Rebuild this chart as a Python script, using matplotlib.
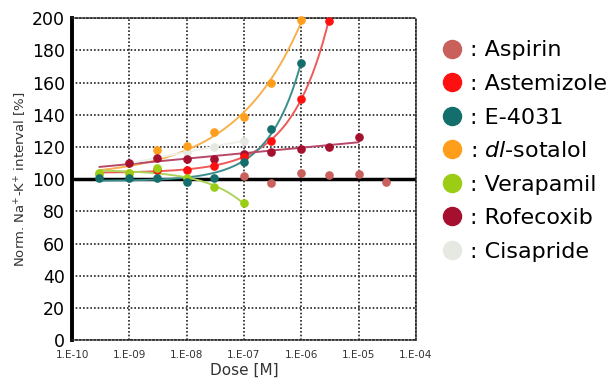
import numpy as np
import matplotlib
matplotlib.use('Agg')
import matplotlib.pyplot as plt
from matplotlib.lines import Line2D

plt.rcParams['font.family'] = 'DejaVu Sans'
plt.rcParams['mathtext.fontset'] = 'dejavusans'

# dose levels [M] and normalised Na+-K+ interval [%]
aspirin_dose = [1e-7, 3e-7, 1e-6, 3e-6, 1e-5, 3e-5]
aspirin_val = [102, 97.5, 104, 102.5, 103, 98]

astemizole_dose = [3e-9, 1e-8, 3e-8, 1e-7, 3e-7, 1e-6, 3e-6]
astemizole_val = [105.5, 106, 108, 114, 124, 150, 198]

e4031_dose = [3e-10, 1e-9, 3e-9, 1e-8, 3e-8, 1e-7, 3e-7, 1e-6]
e4031_val = [101, 101, 101, 98, 101, 110.5, 131, 172]

sotalol_dose = [3e-10, 1e-9, 3e-9, 1e-8, 3e-8, 1e-7, 3e-7, 1e-6]
sotalol_val = [103, 104, 118, 120.5, 129, 138.5, 160, 199]

verapamil_dose = [3e-10, 1e-9, 3e-9, 1e-8, 3e-8, 1e-7]
verapamil_val = [104, 104, 107, 100.5, 95, 85]

rofecoxib_dose = [1e-9, 3e-9, 1e-8, 3e-8, 1e-7, 3e-7, 1e-6, 3e-6, 1e-5]
rofecoxib_val = [110, 113, 112.5, 112.5, 115.5, 117, 118.5, 120, 126]

cisapride_dose = [1e-8, 3e-8, 1e-7]
cisapride_val = [117, 120, 124]

legend_names = ['Aspirin', 'Astemizole', 'E-4031', r'$\it{dl}$-sotalol',
                'Verapamil', 'Rofecoxib', 'Cisapride']

colors = {
    'aspirin': '#c9605c',
    'astemizole': '#ff1010',
    'e4031': '#146e6c',
    'sotalol': '#ff9e1a',
    'verapamil': '#9acd14',
    'rofecoxib': '#a5102e',
    'cisapride': '#e6e9e2',
}
line_colors = {
    'astemizole': '#ee5a5a',
    'e4031': '#3a8e8c',
    'sotalol': '#f8b04e',
    'verapamil': '#acd45a',
    'rofecoxib': '#b8486a',
    'cisapride': '#eef0ea',
}


def exp_fit(dose, val):
    # y = b + a * exp(k * log10(x)); grid over k, least squares for a, b
    t = np.log10(dose)
    t0 = t.mean()
    y = np.array(val, dtype=float)
    best = None
    for k in np.linspace(0.05, 6, 600):
        A = np.column_stack([np.ones_like(t), np.exp(k * (t - t0))])
        coef, *_ = np.linalg.lstsq(A, y, rcond=None)
        sse = np.sum((A @ coef - y) ** 2)
        if best is None or sse < best[0]:
            best = (sse, k, coef)
    _, k, coef = best
    return lambda tt: coef[0] + coef[1] * np.exp(k * (tt - t0))


fig = plt.figure(figsize=(6.16, 3.78), dpi=100)
ax = fig.add_axes([0.117, 0.1, 0.558, 0.852])

ax.set_xscale('log')
ax.set_xlim(1e-10, 1e-4)
ax.set_ylim(0, 200)

# fitted curves
curves = [
    (sotalol_dose, sotalol_val, 'sotalol', -9.52, -5.9),
    (astemizole_dose, astemizole_val, 'astemizole', -9.52, -5.5),
    (e4031_dose, e4031_val, 'e4031', -9.52, -6.0),
    (verapamil_dose, verapamil_val, 'verapamil', -9.52, -7.0),
]
for dose, val, key, t_lo, t_hi in curves:
    f = exp_fit(dose, val)
    tt = np.linspace(t_lo, t_hi, 200)
    ax.plot(10 ** tt, f(tt), color=line_colors[key], lw=1.4, zorder=3)

c = np.polyfit(np.log10(rofecoxib_dose), rofecoxib_val, 1)
tt = np.linspace(-9.52, -5.0, 50)
ax.plot(10 ** tt, np.polyval(c, tt), color=line_colors['rofecoxib'], lw=1.4, zorder=3)

c = np.polyfit(np.log10(cisapride_dose), cisapride_val, 1)
tt = np.linspace(-9.0, -7.0, 50)
ax.plot(10 ** tt, np.polyval(c, tt), color=line_colors['cisapride'], lw=1.4, zorder=3)

# points
ms = 5.2
ax.plot(cisapride_dose, cisapride_val, 'o', color=colors['cisapride'], ms=ms, zorder=4)
ax.plot(aspirin_dose, aspirin_val, 'o', color=colors['aspirin'], ms=ms, zorder=4)
ax.plot(sotalol_dose, sotalol_val, 'o', color=colors['sotalol'], ms=ms, zorder=4, clip_on=False)
ax.plot(rofecoxib_dose, rofecoxib_val, 'o', color=colors['rofecoxib'], ms=ms, zorder=4)
ax.plot(astemizole_dose, astemizole_val, 'o', color=colors['astemizole'], ms=ms, zorder=5, clip_on=False)
ax.plot(verapamil_dose, verapamil_val, 'o', color=colors['verapamil'], ms=ms, zorder=5)
ax.plot(e4031_dose, e4031_val, 'o', color=colors['e4031'], ms=ms, zorder=6)

# baseline
ax.axhline(100, color='black', lw=2.5, zorder=2)

# grid and frame
ax.grid(True, which='major', color='#222222', linestyle=(0, (1, 1.2)), lw=1.2)
ax.minorticks_off()
ax.set_xticks([1e-10, 1e-9, 1e-8, 1e-7, 1e-6, 1e-5, 1e-4])
ax.set_xticklabels(['1.E-10', '1.E-09', '1.E-08', '1.E-07', '1.E-06', '1.E-05', '1.E-04'],
                   fontsize=7.5, color='#333333')
ax.set_yticks(range(0, 201, 20))
ax.tick_params(axis='y', labelsize=12.5, length=0, pad=5)
ax.tick_params(axis='x', length=0, pad=7)
for side in ['top', 'right', 'bottom']:
    ax.spines[side].set_linestyle((0, (1, 1.2)))
    ax.spines[side].set_linewidth(1.2)
    ax.spines[side].set_color('#222222')
ax.spines['left'].set_linewidth(2.8)
ax.spines['left'].set_color('black')

ax.set_xlabel('Dose [M]', fontsize=11, color='#333333', labelpad=2)
ax.set_ylabel(r'Norm. Na$^{+}$-K$^{+}$ interval [%]', fontsize=9.5, color='#333333', labelpad=2)

# legend
handles = [Line2D([], [], marker='o', ls='', ms=13, color=colors[k])
           for k in ['aspirin', 'astemizole', 'e4031', 'sotalol', 'verapamil', 'rofecoxib', 'cisapride']]
labels = [': ' + n for n in legend_names]
fig.legend(handles, labels, loc='upper left', bbox_to_anchor=(0.718, 0.893),
           frameon=False, fontsize=16, handlelength=0.9, handletextpad=0.35,
           labelspacing=0.61, borderaxespad=0, borderpad=0)

fig.savefig('out.png', dpi=100, facecolor='white')
